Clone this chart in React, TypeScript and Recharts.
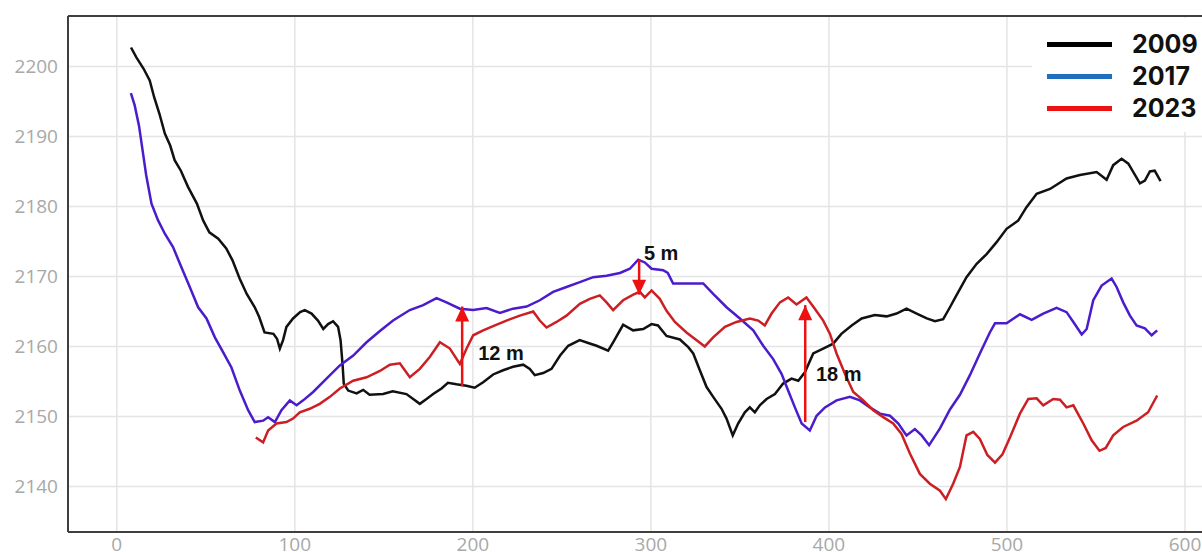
import {
  LineChart,
  Line,
  XAxis,
  YAxis,
  CartesianGrid,
  ReferenceLine,
  ReferenceDot,
  Legend,
} from 'recharts'

// elevation profiles [distance m, elevation m]
const profile2009: [number, number][] = [
  [8, 2202.7], [11, 2201.3], [15, 2199.7], [18.5, 2198], [21, 2195.6], [24, 2193.2], [27, 2190.4],
  [30, 2188.7], [32.5, 2186.6], [36, 2185.1], [40, 2182.8], [45, 2180.4], [48.5, 2178], [52, 2176.3],
  [57, 2175.4], [61.5, 2174], [65, 2172.3], [69, 2169.7], [73, 2167.5], [77.5, 2165.6], [80, 2164.2],
  [83, 2162], [88, 2161.8], [90, 2161.1], [91.6, 2159.7], [93.4, 2160.9], [95.3, 2162.8], [99, 2164],
  [103, 2164.9], [105.6, 2165.2], [109.4, 2164.7], [113, 2163.7], [116, 2162.5], [118.7, 2163.2],
  [121.5, 2163.6], [124.3, 2162.8], [125.7, 2160.9], [126.8, 2157.5], [127.5, 2154.7], [130, 2153.7],
  [134.7, 2153.3], [138.4, 2153.8], [142, 2153.1], [149.6, 2153.2], [155, 2153.6], [162.7, 2153.2],
  [166.5, 2152.5], [170.2, 2151.8], [174, 2152.5], [177.7, 2153.2], [182.4, 2154], [186, 2154.8],
  [190.8, 2154.6], [196.4, 2154.4], [201, 2154.1], [205.8, 2154.9], [211.4, 2156], [217, 2156.6],
  [222.6, 2157.1], [228.3, 2157.4], [232, 2156.8], [234.8, 2155.9], [239.5, 2156.2], [244.2, 2156.8],
  [249, 2158.7], [253.6, 2160.1], [260, 2160.9], [264.8, 2160.5], [269.5, 2160.1], [276, 2159.4],
  [278.8, 2160.6], [284.4, 2163.1], [290, 2162.3], [295.7, 2162.5], [300.4, 2163.2], [304, 2163],
  [308.8, 2161.5], [316.3, 2161], [321, 2159.9], [323.8, 2159], [327.5, 2156.6], [331.3, 2154.2],
  [335, 2152.8], [339.7, 2151.1], [342.5, 2149.7], [346, 2147.3], [349, 2149], [352.8, 2150.6],
  [355.6, 2151.3], [358.4, 2150.6], [361.2, 2151.6], [365, 2152.5], [369.7, 2153.2], [374.3, 2154.7],
  [379, 2155.4], [382.8, 2155.1], [386.5, 2156.3], [391.2, 2159], [396.8, 2159.7], [402.4, 2160.4],
  [407, 2161.8], [412.8, 2163], [418.4, 2164], [425.8, 2164.5], [432.4, 2164.3], [438, 2164.7],
  [443.6, 2165.4], [449.3, 2164.7], [455, 2164], [459.6, 2163.6], [464.2, 2163.9], [468, 2165.6],
  [471, 2167], [477.3, 2169.9], [483, 2171.8], [488.6, 2173.2], [494.2, 2174.9], [499.8, 2176.8],
  [506.4, 2178], [511, 2179.9], [516.7, 2181.8], [524.2, 2182.5], [533.5, 2184], [541, 2184.5],
  [550.4, 2184.9], [556, 2183.8], [559.7, 2185.9], [564.4, 2186.8], [568.2, 2186.1], [571, 2184.9],
  [574.7, 2183.3], [577.5, 2183.7], [580.3, 2185], [583, 2185.1], [586.3, 2183.6],
]

const profile2017: [number, number][] = [
  [7.9, 2196.2], [10, 2194.5], [12.5, 2191.5], [14.5, 2188], [16.5, 2184.5], [19.5, 2180.4],
  [23.2, 2178], [27, 2176.1], [31.6, 2174.2], [36.3, 2171.3], [41, 2168.5], [45.7, 2165.6], [50.4, 2164],
  [55.1, 2161.3], [59.7, 2159.2], [64.4, 2157], [69.1, 2153.7], [73.8, 2150.9], [77.5, 2149.2],
  [82.2, 2149.4], [85, 2149.9], [88.8, 2149.2], [92.5, 2150.9], [97.2, 2152.3], [101, 2151.6],
  [104.7, 2152.3], [110.3, 2153.5], [117.8, 2155.4], [125.3, 2157.3], [132.8, 2158.7], [140.3, 2160.6],
  [147.8, 2162.2], [155.2, 2163.7], [164.6, 2165.2], [172.1, 2165.9], [179.6, 2166.9], [185.2, 2166.3],
  [192.7, 2165.4], [200.2, 2165.2], [207.7, 2165.5], [215.2, 2164.8], [222.6, 2165.4], [230.2, 2165.7],
  [237.6, 2166.6], [245.1, 2167.8], [252.6, 2168.5], [260.1, 2169.2], [267.6, 2169.9], [275.1, 2170.1],
  [282.6, 2170.5], [288.2, 2171.1], [292.9, 2172.4], [296.6, 2172], [300.4, 2171.1], [306.9, 2170.9],
  [309.5, 2170.5], [312.5, 2169], [320, 2169], [329.4, 2169], [335, 2167.5], [342.5, 2165.6], [350, 2164],
  [357.5, 2162.3], [363.1, 2160.1], [368.7, 2158.2], [373.4, 2156.1], [377.1, 2153.7], [380.9, 2151.3],
  [384.7, 2149], [389.3, 2148], [393.1, 2150.1], [397.8, 2151.3], [404.3, 2152.3], [411.8, 2152.8],
  [417.4, 2152.3], [423, 2151.3], [428.7, 2150.4], [434.3, 2150.1], [439, 2149], [443.6, 2147.3],
  [448.3, 2148.2], [452.1, 2147.3], [456.3, 2145.9], [462.4, 2148.3], [468, 2151], [473.6, 2153.1],
  [479.2, 2155.9], [484.8, 2159], [490.4, 2162], [493.3, 2163.3], [499.8, 2163.3], [507.3, 2164.6],
  [513.9, 2163.8], [520.4, 2164.7], [527.9, 2165.5], [533.5, 2164.9], [537.3, 2163.5], [542, 2161.7],
  [544.8, 2162.5], [548.5, 2166.6], [553.2, 2168.7], [558.8, 2169.7], [561.6, 2168.5], [565.3, 2166.3],
  [569.1, 2164.4], [572.8, 2163], [577.5, 2162.6], [581.3, 2161.6], [584.4, 2162.3],
]

const profile2023: [number, number][] = [
  [78.1, 2147], [82.2, 2146.3], [85, 2148], [89.7, 2149], [95.3, 2149.2], [99, 2149.7], [102.8, 2150.6],
  [108.4, 2151.1], [114, 2151.8], [119.7, 2152.8], [125.3, 2154], [132.8, 2155.1], [140.3, 2155.6],
  [147.8, 2156.5], [153.4, 2157.4], [159, 2157.6], [164.6, 2155.6], [170.2, 2156.8], [175.8, 2158.5],
  [181.5, 2160.6], [187.1, 2159.7], [192.7, 2157.5], [196.5, 2159.7], [200.2, 2161.6], [205.8, 2162.3],
  [212.4, 2163], [218.9, 2163.7], [226.4, 2164.4], [233.9, 2165], [237.6, 2163.7], [241.4, 2162.7],
  [247, 2163.5], [252.6, 2164.4], [260.1, 2166.1], [265.7, 2166.8], [271.3, 2167.3], [275.1, 2166.3],
  [278.8, 2165.2], [284.4, 2166.6], [290.1, 2167.4], [293.8, 2167.8], [296.6, 2167], [300.4, 2168],
  [305, 2166.8], [308.8, 2165.1], [313.5, 2163.5], [320, 2162], [325.7, 2160.9], [330.3, 2160],
  [335, 2161.3], [341.6, 2162.8], [348.1, 2163.5], [355.6, 2164], [360.3, 2163.7], [364, 2163],
  [367.8, 2164.7], [372.5, 2166.3], [377.1, 2167], [381.8, 2166], [387.4, 2167], [392.1, 2165.4],
  [396.8, 2163.7], [400.6, 2161.8], [404.3, 2159], [409, 2156.1], [413.7, 2153.5], [419.3, 2152.3],
  [424.9, 2150.9], [430.5, 2149.9], [436.1, 2149], [440.8, 2147.5], [445.5, 2144.7], [451.1, 2141.8],
  [456.7, 2140.4], [462.4, 2139.4], [465.7, 2138.2], [469.8, 2140.4], [473.6, 2142.8], [477.3, 2147.3],
  [481.1, 2147.8], [484.8, 2146.8], [489, 2144.5], [493.3, 2143.4], [497.5, 2144.6], [501.7, 2147],
  [507.3, 2150.4], [512, 2152.5], [516.7, 2152.6], [520.4, 2151.6], [526, 2152.5], [529.8, 2152.4],
  [533.5, 2151.3], [537.3, 2151.6], [542.9, 2149], [547.6, 2146.6], [552, 2145.1], [555.5, 2145.5],
  [559.7, 2147.3], [565.3, 2148.5], [572.8, 2149.4], [579.3, 2150.6], [584.4, 2153],
]

const xTicks = [0, 100, 200, 300, 400, 500, 600]
const yTicks = [2140, 2150, 2160, 2170, 2180, 2190, 2200]
const xDomain: [number, number] = [-27.4, 625.3]
const yDomain: [number, number] = [2133.5, 2207.2]

const legendYears = ['2009', '2017', '2023']
const legendColors = ['#000000', '#1f6fbf', '#ee1111']

// elevation change arrows: distance, start, end (arrow head at end), label
const arrows = [
  { x: 194, from: 2154.3, to: 2165.7, label: '12 m', labelX: 203, labelY: 2158.1 },
  { x: 293.4, from: 2172.4, to: 2167.4, label: '5 m', labelX: 296.1, labelY: 2172.4 },
  { x: 386.7, from: 2149.2, to: 2165.9, label: '18 m', labelX: 392.7, labelY: 2155 },
]

const toPoints = (p: [number, number][]) => p.map(([x, y]) => ({ x, y }))

const ARROW_RED = '#ee1111'

function LegendBox() {
  return (
    <div style={{ background: '#fff', padding: '10px 0 8px 15px', width: 180 }}>
      {legendYears.map((year, i) => (
        <div key={year} style={{ display: 'flex', alignItems: 'center', height: 32 }}>
          <div style={{ width: 65, height: 5, background: legendColors[i] }} />
          <span
            style={{
              marginLeft: 20,
              fontFamily: 'Inter, Roboto, sans-serif',
              fontWeight: 700,
              fontSize: 25,
              color: '#111',
              lineHeight: '32px',
            }}
          >
            {year}
          </span>
        </div>
      ))}
    </div>
  )
}

export default function App() {
  return (
    <div style={{ position: 'absolute', left: 0, top: 0, width: 1202, height: 552, overflow: 'hidden', background: '#fff' }}>
      <LineChart width={1230} height={552} margin={{ top: 16, right: 0, bottom: 0, left: 0 }}>
        <CartesianGrid stroke="#e4e4e4" strokeWidth={1.5} />
        <XAxis
          type="number"
          dataKey="x"
          domain={xDomain}
          ticks={xTicks}
          allowDataOverflow
          height={20}
          tickSize={0}
          tickMargin={6}
          axisLine={{ stroke: '#3f3f3f', strokeWidth: 2 }}
          tick={{ fill: '#a8a8a8', fontSize: 19, fontFamily: 'Open Sans' }}
        />
        <YAxis
          type="number"
          domain={yDomain}
          ticks={yTicks}
          allowDataOverflow
          width={68}
          tickSize={0}
          tickMargin={10}
          axisLine={{ stroke: '#3f3f3f', strokeWidth: 2 }}
          tick={{ fill: '#a8a8a8', fontSize: 19, fontFamily: 'Open Sans' }}
        />
        <ReferenceLine y={yDomain[1]} stroke="#3f3f3f" strokeWidth={2} />
        <Legend
          layout="vertical"
          align="center"
          verticalAlign="middle"
          content={() => <LegendBox />}
          wrapperStyle={{ left: 1032, top: 18, width: 180, height: 100 }}
        />
        <Line
          data={toPoints(profile2009)}
          dataKey="y"
          name="2009"
          type="linear"
          stroke="#111111"
          strokeWidth={2.5}
          dot={false}
          isAnimationActive={false}
        />
        <Line
          data={toPoints(profile2017)}
          dataKey="y"
          name="2017"
          type="linear"
          stroke="#4a1ccc"
          strokeWidth={2.5}
          dot={false}
          isAnimationActive={false}
        />
        <Line
          data={toPoints(profile2023)}
          dataKey="y"
          name="2023"
          type="linear"
          stroke="#cc1f24"
          strokeWidth={2.5}
          dot={false}
          isAnimationActive={false}
        />
        {arrows.map((a) => (
          <ReferenceLine
            key={'shaft' + a.label}
            segment={[{ x: a.x, y: a.from }, { x: a.x, y: a.to }]}
            stroke={ARROW_RED}
            strokeWidth={2.5}
          />
        ))}
        {arrows.map((a) => (
          <ReferenceDot
            key={'head' + a.label}
            x={a.x}
            y={a.to}
            r={0}
            shape={(props: any) => {
              const { cx, cy } = props
              const dir = a.to > a.from ? 1 : -1
              const base = cy + dir * 15
              return (
                <path
                  d={`M${cx},${cy} L${cx - 7},${base} L${cx + 7},${base} Z`}
                  fill={ARROW_RED}
                />
              )
            }}
          />
        ))}
        {arrows.map((a) => (
          <ReferenceDot
            key={'label' + a.label}
            x={a.labelX}
            y={a.labelY}
            r={0}
            shape={(props: any) => (
              <text
                x={props.cx}
                y={props.cy}
                fontFamily="Liberation Sans, Arial, sans-serif"
                fontWeight={700}
                fontSize={20}
                fill="#111"
              >
                {a.label}
              </text>
            )}
          />
        ))}
      </LineChart>
    </div>
  )
}
